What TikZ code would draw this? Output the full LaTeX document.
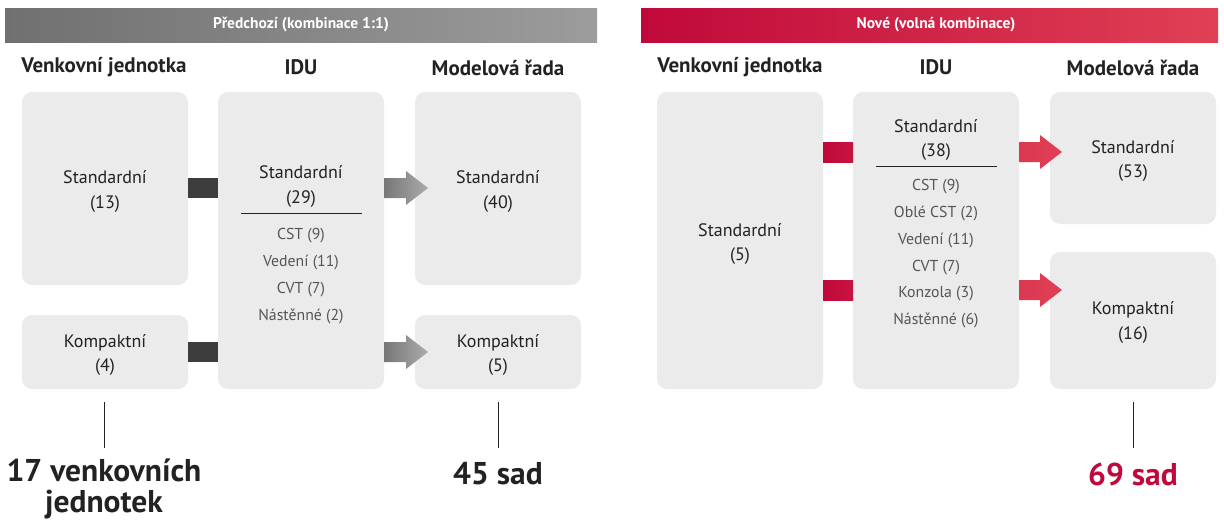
\documentclass[tikz,border=0pt]{standalone}
\usepackage{fontspec}
\setmainfont{PT Sans}
\usetikzlibrary{calc}
\definecolor{boxgray}{HTML}{EBEBEB}
\definecolor{txt}{HTML}{222222}
\definecolor{itemtxt}{HTML}{555555}
\definecolor{darkconn}{HTML}{3C3C3C}
\definecolor{ga}{HTML}{707070}
\definecolor{gb}{HTML}{9C9C9C}
\definecolor{ra}{HTML}{C0093A}
\definecolor{rb}{HTML}{E04055}
\definecolor{arrg1}{HTML}{777777}
\definecolor{arrg2}{HTML}{ABABAB}
\tikzset{
  box/.style={fill=boxgray, rounded corners=10pt, inner sep=0pt},
  colhead/.style={font=\fontsize{21}{24}\selectfont\bfseries, text=txt},
  boxtext/.style={font=\fontsize{18}{24.5}\selectfont, text=txt, align=center},
  itemtext/.style={font=\fontsize{15.8}{26.8}\selectfont, text=itemtxt, align=center},
  bigtext/.style={font=\fontsize{31.5}{31}\selectfont\bfseries, align=center, inner sep=1pt},
  hdrtext/.style={font=\fontsize{15.5}{18}\selectfont\bfseries, text=white},
  tick/.style={draw=txt, line width=0.9pt},
}
\begin{document}
\begin{tikzpicture}[x=1pt,y=-1pt]
\useasboundingbox (0,0) rectangle (1224,523);
% ---------- headers ----------
\shade[left color=ga, right color=gb] (5,8) rectangle (597,42);
\node[hdrtext] (hL) at (301,25) {Předchozí (kombinace 1:1)};
\shade[left color=ra, right color=rb] (641,8) rectangle (1218,42);
\node[hdrtext] (hR) at (936,25) {Nové (volná kombinace)};
% column headers
\node[colhead] (cL1) at (104,67.5) {Venkovní jednotka};
\node[colhead] (cL2) at (301,67.5) {IDU};
\node[colhead] (cL3) at (498,67.5) {Modelová řada};
\node[colhead] (cR1) at (740,67.5) {Venkovní jednotka};
\node[colhead] (cR2) at (936,67.5) {IDU};
\node[colhead] (cR3) at (1133,67.5) {Modelová řada};
% ---------- left panel boxes ----------
\path[box] (22,92) rectangle (188,285);
\node[boxtext] (oStd) at (105,191.5) {Standardní\\(13)};
\path[box] (22,315) rectangle (188,389);
\node[boxtext] (oCmp) at (105,355) {Kompaktní\\(4)};
\path[box] (218,92) rectangle (384,389);
\node[boxtext] (iStd) at (301,186.5) {Standardní\\(29)};
\draw[txt, line width=0.8pt] (241,213) -- (362,213);
\node[itemtext, anchor=north] (iList) at (301,225) {CST (9)\\Vedení (11)\\CVT (7)\\Nástěnné (2)};
\path[box] (415,92) rectangle (581,285);
\node[boxtext] (mStd) at (498,191.5) {Standardní\\(40)};
\path[box] (415,315) rectangle (581,389);
\node[boxtext] (mCmp) at (498,355) {Kompaktní\\(5)};
\coordinate (oStdE) at (188,188);
\coordinate (oCmpE) at (188,352);
\coordinate (iduLW) at (218,0);
% dark connectors
\fill[darkconn] ($(oStdE)+(0,-10)$) rectangle ($(iduLW |- oStdE)+(0,10)$);
\fill[darkconn] ($(oCmpE)+(0,-10)$) rectangle ($(iduLW |- oCmpE)+(0,10)$);
% gray arrows
\foreach \yy in {188,352}{
  \shade[left color=arrg1, right color=arrg2]
    (384,\yy-10) -- (406,\yy-10) -- (406,\yy-17) -- (428,\yy) -- (406,\yy+17) -- (406,\yy+10) -- (384,\yy+10) -- cycle;
}
% ticks and totals
\draw[tick] (104,402) -- (104,448);
\draw[tick] (498,402) -- (498,448);
\node[bigtext, text=txt] (tL1) at (104,489) {17 venkovních\\jednotek};
\node[bigtext, text=txt] (tL2) at (498,474) {45 sad};
% ---------- right panel boxes ----------
\path[box] (657,92) rectangle (823,389);
\node[boxtext] (roStd) at (740,244) {Standardní\\(5)};
\path[box] (853,92) rectangle (1019,389);
\node[boxtext] (riStd) at (936,140) {Standardní\\(38)};
\draw[txt, line width=0.8pt] (876,166) -- (997,166);
\node[itemtext, anchor=north] (riList) at (936,176) {CST (9)\\Oblé CST (2)\\Vedení (11)\\CVT (7)\\Konzola (3)\\Nástěnné (6)};
\path[box] (1050,92) rectangle (1216,224);
\node[boxtext] (rmStd) at (1133,161) {Standardní\\(53)};
\path[box] (1050,252) rectangle (1216,389);
\node[boxtext] (rmCmp) at (1133,322.5) {Kompaktní\\(16)};
% red connectors
\foreach \yy in {152,290}{
  \shade[left color=ra, right color=ra!80!rb] (823,\yy-10) rectangle (853,\yy+10);
  \shade[left color=rb!85!ra, right color=rb]
    (1019,\yy-10) -- (1040,\yy-10) -- (1040,\yy-17) -- (1062,\yy) -- (1040,\yy+17) -- (1040,\yy+10) -- (1019,\yy+10) -- cycle;
}
\draw[tick] (1133,402) -- (1133,448);
\node[bigtext, text=ra] (tR) at (1133,474) {69 sad};
\end{tikzpicture}
\end{document}
